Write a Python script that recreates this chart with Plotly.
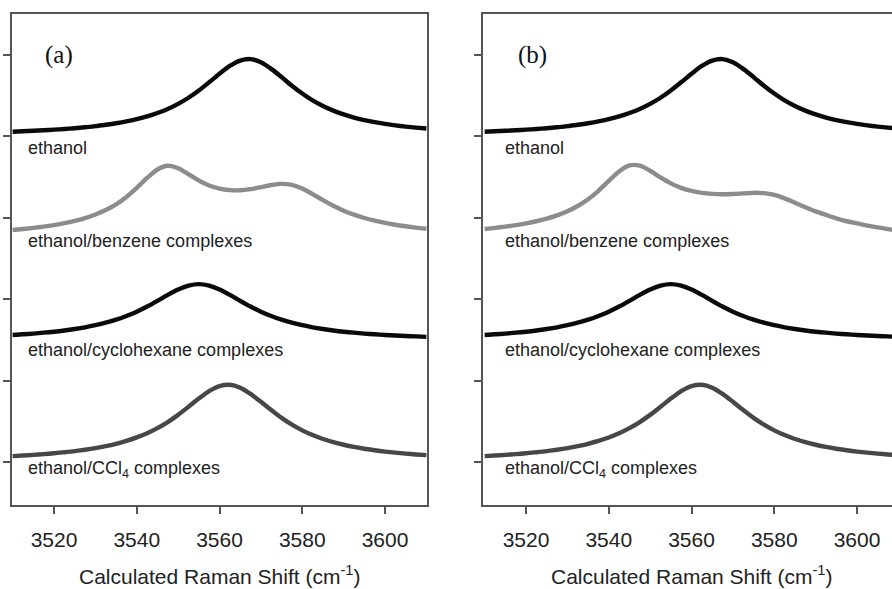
import plotly.graph_objects as go

# ---------------- data ----------------
raman_shift = [3510, 3512.5, 3515, 3517.5, 3520, 3522.5, 3525, 3527.5, 3530, 3532.5,
               3535, 3537.5, 3540, 3542.5, 3545, 3547.5, 3550, 3552.5, 3555, 3557.5,
               3560, 3562.5, 3565, 3567.5, 3570, 3572.5, 3575, 3577.5, 3580, 3582.5,
               3585, 3587.5, 3590, 3592.5, 3595, 3597.5, 3600, 3602.5, 3605, 3607.5, 3610]

ethanol_a = [4.058, 4.063, 4.069, 4.075, 4.083, 4.091, 4.101, 4.113, 4.126, 4.143,
             4.162, 4.185, 4.213, 4.246, 4.288, 4.338, 4.400, 4.475, 4.564, 4.665,
             4.770, 4.866, 4.932, 4.950, 4.911, 4.830, 4.729, 4.623, 4.527, 4.443,
             4.374, 4.317, 4.270, 4.232, 4.201, 4.175, 4.154, 4.136, 4.121, 4.108, 4.097]

benzene_a = [2.850, 2.862, 2.876, 2.892, 2.911, 2.934, 2.962, 2.997, 3.040, 3.095,
             3.166, 3.257, 3.368, 3.490, 3.594, 3.639, 3.609, 3.536, 3.458, 3.397,
             3.358, 3.340, 3.338, 3.352, 3.376, 3.403, 3.417, 3.405, 3.359, 3.291,
             3.217, 3.148, 3.088, 3.039, 2.998, 2.965, 2.938, 2.915, 2.896, 2.879, 2.865]

cyclohexane_a = [1.561, 1.569, 1.578, 1.589, 1.601, 1.616, 1.634, 1.655, 1.681, 1.712,
                 1.749, 1.794, 1.847, 1.910, 1.980, 2.053, 2.119, 2.167, 2.185, 2.167,
                 2.119, 2.053, 1.980, 1.910, 1.847, 1.794, 1.749, 1.712, 1.681, 1.655,
                 1.634, 1.616, 1.601, 1.589, 1.578, 1.569, 1.561, 1.554, 1.548, 1.543, 1.538]

ccl4_a = [0.073, 0.080, 0.088, 0.097, 0.107, 0.120, 0.134, 0.151, 0.171, 0.195,
          0.224, 0.259, 0.302, 0.353, 0.416, 0.491, 0.579, 0.678, 0.780, 0.872,
          0.933, 0.949, 0.913, 0.837, 0.740, 0.638, 0.542, 0.459, 0.389, 0.331,
          0.283, 0.244, 0.212, 0.185, 0.163, 0.144, 0.128, 0.115, 0.103, 0.093, 0.085]

ethanol_b = ethanol_a
benzene_b = [2.863, 2.876, 2.892, 2.910, 2.932, 2.958, 2.990, 3.030, 3.081, 3.145,
             3.228, 3.332, 3.453, 3.570, 3.643, 3.641, 3.578, 3.496, 3.423, 3.368,
             3.330, 3.307, 3.294, 3.290, 3.293, 3.300, 3.307, 3.303, 3.281, 3.239,
             3.185, 3.130, 3.079, 3.036, 2.994, 2.958, 2.932, 2.905, 2.882, 2.861, 2.845]
cyclohexane_b = cyclohexane_a
ccl4_b = ccl4_a

series_labels = ["ethanol", "ethanol/benzene complexes",
                 "ethanol/cyclohexane complexes", "ethanol/CCl<sub>4</sub> complexes"]
panel_labels = ["(a)", "(b)"]
x_ticks = [3520, 3540, 3560, 3580, 3600]
y_ticks = [0, 1, 2, 3, 4, 5]

# ---------------- figure ----------------
W, H = 892, 589
colors = ["#0a0a0a", "#8c8c8c", "#0a0a0a", "#474747"]
panels = [
    ("x", "y", [ethanol_a, benzene_a, cyclohexane_a, ccl4_a]),
    ("x2", "y2", [ethanol_b, benzene_b, cyclohexane_b, ccl4_b]),
]

fig = go.Figure()
for xa, ya, series in panels:
    for vals, col in zip(series, colors):
        fig.add_trace(go.Scatter(
            x=raman_shift, y=vals, xaxis=xa, yaxis=ya, mode="lines",
            line=dict(color=col, width=4.4, shape="spline", smoothing=0.8),
            showlegend=False, hoverinfo="skip"))

axis_col = "#555555"
font_sans = "Liberation Sans, Arial, sans-serif"
common_x = dict(tickvals=x_ticks, ticks="outside", ticklen=7, tickwidth=1.5,
                tickcolor=axis_col, showline=True, linecolor=axis_col, linewidth=1.5,
                mirror=True, showgrid=False, zeroline=False,
                tickfont=dict(family=font_sans, size=21, color="#222222"),
                ticklabelstandoff=8)
common_y = dict(tickvals=y_ticks, ticks="outside", ticklen=7, tickwidth=1.5,
                tickcolor=axis_col, showline=True, linecolor=axis_col, linewidth=1.5,
                showticklabels=False, showgrid=False, zeroline=False,
                range=[-0.528, 5.504])

fig.update_layout(
    width=W, height=H,
    margin=dict(l=0, r=0, t=14, b=84),
    paper_bgcolor="white", plot_bgcolor="white",
    xaxis=dict(domain=[12 / W, 427 / W], range=[3509.85, 3610.15], anchor="y", **common_x),
    xaxis2=dict(domain=[483 / W, 1.0], range=[3509.6, 3608.46], anchor="y2", **common_x),
    yaxis=dict(domain=[0, 1], anchor="x", mirror=True, **common_y),
    yaxis2=dict(domain=[0, 1], anchor="x2", mirror=False, **common_y),
)

label_y = [3.861, 2.72, 1.371, -0.091]
ann = []
for (xa, ya, _), label_x, plab_x, plab in zip(panels, [3513.3, 3514.5], [3517.4, 3517.6],
                                              panel_labels):
    for txt, yy in zip(series_labels, label_y):
        ann.append(dict(xref=xa, yref=ya, x=label_x, y=yy, text=txt, showarrow=False,
                        xanchor="left", yanchor="middle",
                        font=dict(family=font_sans, size=18, color="#222222")))
    ann.append(dict(xref=xa, yref=ya, x=plab_x, y=5.0, text=plab,
                    showarrow=False, xanchor="left", yanchor="middle",
                    font=dict(family="Liberation Serif, Times New Roman, serif", size=25,
                              color="#111111")))
    ann.append(dict(xref=xa, yref="paper", x=3560, y=-0.143,
                    text="Calculated Raman Shift (cm<sup>-1</sup>)", showarrow=False,
                    xanchor="center", yanchor="middle",
                    font=dict(family=font_sans, size=21, color="#222222")))
fig.update_layout(annotations=ann)

fig.write_html("out.html",
               config={"displayModeBar": False},
               post_script="document.body.style.margin='0px';"
                           "document.documentElement.style.overflow='hidden';")
